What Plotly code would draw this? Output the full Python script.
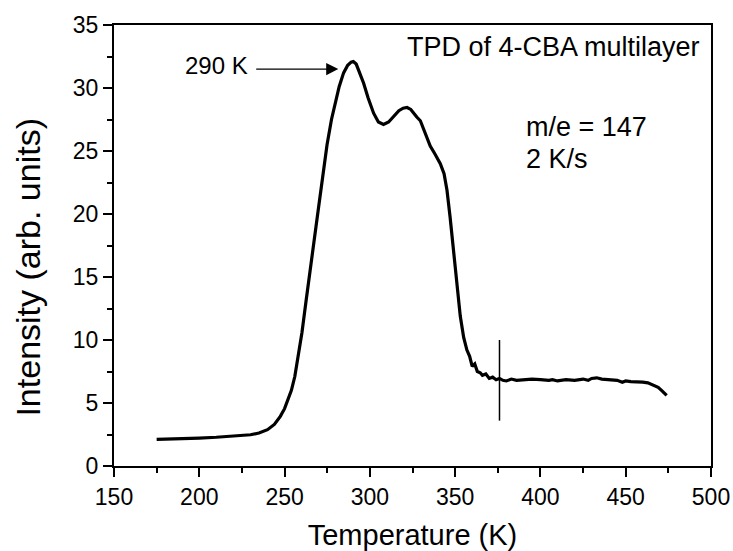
import plotly.graph_objects as go

temperature_K = [175, 180, 190, 200, 210, 220, 230, 235, 240, 244, 247.5, 250, 252, 254, 256, 258,
                 260.2, 262.5, 265.1, 267.5, 270, 272.5, 274.9, 277.5, 279.8, 282, 284.6, 287, 289,
                 290.3, 292, 294, 296.3, 299, 302.2, 305, 308, 311, 314, 317, 319.5, 321.8, 324,
                 325.6, 327.5, 329.6, 332, 335.4, 338, 341.3, 343.5, 345.2, 347, 349.1, 351, 353,
                 355, 356.9, 358.5, 360, 361.5, 363, 364.7, 366, 368, 370, 372, 374, 376, 378, 380,
                 383, 386, 390, 395, 400, 405, 407, 410, 415, 420, 425, 428, 430, 433, 436, 440,
                 445, 448, 450, 453, 456.7, 460, 463, 466, 469, 471, 474]
intensity = [2.12, 2.13, 2.15, 2.22, 2.28, 2.35, 2.48, 2.62, 2.88, 3.3, 3.94, 4.55, 5.2, 6.0, 7.1, 8.6,
             10.6, 13.0, 15.5, 18.0, 20.6, 23.1, 25.5, 27.5, 28.95, 30.1, 31.2, 31.8, 32.05,
             32.1, 31.9, 31.2, 30.4, 29.2, 28.0, 27.3, 27.1, 27.3, 27.8, 28.2, 28.4, 28.45, 28.3,
             28.0, 27.7, 27.4, 26.5, 25.4, 24.8, 24.0, 23.2, 21.9, 19.8, 17.2, 14.6, 11.9,
             10.2, 9.2, 8.7, 7.9, 8.1, 7.5, 7.4, 7.2, 7.3, 6.95, 7.05, 6.85, 6.95, 6.8, 6.75,
             6.9, 6.8, 6.85, 6.9, 6.85, 6.8, 6.85, 6.75, 6.85, 6.8, 6.9, 6.8, 6.95, 7.0, 6.9, 6.85,
             6.8, 6.65, 6.75, 6.7, 6.7, 6.65, 6.6, 6.45, 6.25, 6.0, 5.6]

marker_T = [376, 376]
marker_I = [3.6, 10.0]

peak_label = "290 K"
peak_arrow_tail = (232.5, 31.5)
peak_arrow_head = (281.5, 31.5)

FONT = "Liberation Sans, Arial, sans-serif"

fig = go.Figure()
fig.add_trace(go.Scatter(x=temperature_K, y=intensity, mode="lines",
                         line=dict(color="black", width=3.2), showlegend=False))
fig.add_trace(go.Scatter(x=marker_T, y=marker_I, mode="lines",
                         line=dict(color="black", width=1.5), showlegend=False))

fig.add_annotation(x=peak_arrow_head[0], y=peak_arrow_head[1], ax=peak_arrow_tail[0], ay=peak_arrow_tail[1],
                   xref="x", yref="y", axref="x", ayref="y", text="", showarrow=True,
                   arrowhead=2, arrowsize=2.2, arrowwidth=1.1, arrowcolor="black")
fig.add_annotation(x=229.5, y=31.8, xref="x", yref="y", text=peak_label,
                   showarrow=False, xanchor="right", yanchor="middle",
                   font=dict(family=FONT, size=24, color="black"))
fig.add_annotation(x=1.0, y=1.0, xref="paper", yref="paper", xshift=-9, yshift=-5,
                   text="TPD of 4-CBA multilayer", showarrow=False, xanchor="right", yanchor="top",
                   font=dict(family=FONT, size=27, color="black"))
fig.add_annotation(x=390.5, y=26.9, xref="x", yref="y", text="m/e = 147", showarrow=False,
                   xanchor="left", yanchor="middle",
                   font=dict(family=FONT, size=27, color="black"))
fig.add_annotation(x=390.5, y=24.4, xref="x", yref="y", text="2 K/s", showarrow=False,
                   xanchor="left", yanchor="middle",
                   font=dict(family=FONT, size=27, color="black"))
# y-axis title placed as rotated text
fig.add_annotation(x=-0.144, y=0.45, xref="paper", yref="paper", text="Intensity (arb. units)",
                   showarrow=False, textangle=-90, xanchor="center", yanchor="middle",
                   font=dict(family=FONT, size=34, color="black"))

axis_common = dict(showline=True, linecolor="black", linewidth=2, mirror=True,
                   ticks="outside", ticklen=9, tickwidth=2, tickcolor="black",
                   showgrid=False, zeroline=False, automargin=False,
                   tickfont=dict(family=FONT, size=23, color="black"))

fig.update_xaxes(range=[150, 500], dtick=50, tick0=150,
                 minor=dict(dtick=25, ticklen=5, tickwidth=2, tickcolor="black", ticks="outside"),
                 title=dict(text="Temperature (K)", font=dict(family=FONT, size=29, color="black"), standoff=18),
                 **axis_common)
fig.update_yaxes(range=[0, 35], dtick=5, tick0=0,
                 minor=dict(dtick=2.5, ticklen=5, tickwidth=2, tickcolor="black", ticks="outside"),
                 **axis_common)

fig.update_layout(width=733, height=551, margin=dict(l=114, r=22, t=25, b=85),
                  plot_bgcolor="white", paper_bgcolor="white")

fig.write_html("out.html")
